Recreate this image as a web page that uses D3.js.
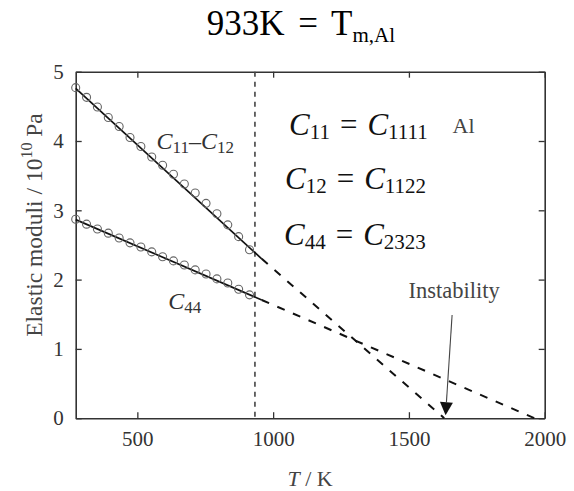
<!DOCTYPE html>
<html>
<head>
<meta charset="utf-8">
<script src="https://cdn.jsdelivr.net/npm/d3@7"></script>
<style>
  html, body { margin: 0; padding: 0; background: #fff; }
  svg { display: block; }
</style>
</head>
<body>
<svg id="chart" width="574" height="491"></svg>
<script>
// Measured temperatures (K)
const temps = [273, 313, 353, 393, 433, 473, 513, 553, 593, 633, 673, 713, 753, 793, 833, 873, 913];
// C11 - C12 (10^10 Pa)
const c11MinusC12 = [4.77, 4.63, 4.49, 4.34, 4.21, 4.05, 3.92, 3.77, 3.65, 3.52, 3.38, 3.25, 3.10, 2.95, 2.79, 2.62, 2.43];
// C44 (10^10 Pa)
const c44 = [2.87, 2.80, 2.73, 2.67, 2.60, 2.53, 2.47, 2.40, 2.33, 2.27, 2.21, 2.14, 2.08, 2.01, 1.95, 1.86, 1.78];

// Linear fits [T, value]: fitted part and extrapolation to zero
const fitC11C12 = [[273, 4.76], [958, 2.30]];
const extC11C12 = [[958, 2.30], [1630, 0]];
const fitC44 = [[273, 2.865], [958, 1.706]];
const extC44 = [[958, 1.706], [1962, 0]];

const meltingT = 933;
const instabilityT = 1635;
const arrowStart = [1659, 1.49];

const xTicks = [500, 1000, 1500, 2000];
const yTicks = [0, 1, 2, 3, 4, 5];

const serif = "'Liberation Serif', 'DejaVu Serif', serif";

const svg = d3.select("#chart");
const plotLeft = 75.7, plotRight = 544.7, plotTop = 71.7, plotBottom = 418.2;

const x = d3.scaleLinear().domain([273, 2000]).range([plotLeft, plotRight]);
const y = d3.scaleLinear().domain([0, 5]).range([plotBottom, plotTop]);

const axisColor = "#333";
const fmt = d3.format("d");

// Axes with inward ticks on all four sides
const gB = svg.append("g").attr("transform", `translate(0,${plotBottom})`)
  .call(d3.axisBottom(x).tickValues(xTicks).tickFormat(fmt).tickSizeInner(-6).tickSizeOuter(0).tickPadding(13));
const gT = svg.append("g").attr("transform", `translate(0,${plotTop})`)
  .call(d3.axisTop(x).tickValues(xTicks).tickSizeInner(-6).tickSizeOuter(0).tickFormat(""));
const gL = svg.append("g").attr("transform", `translate(${plotLeft},0)`)
  .call(d3.axisLeft(y).tickValues(yTicks).tickFormat(fmt).tickSizeInner(-6).tickSizeOuter(0).tickPadding(12));
const gR = svg.append("g").attr("transform", `translate(${plotRight},0)`)
  .call(d3.axisRight(y).tickValues(yTicks).tickSizeInner(-6).tickSizeOuter(0).tickFormat(""));

[gB, gT, gL, gR].forEach(g => {
  g.select(".domain").attr("stroke", axisColor).attr("stroke-width", 1.6);
  g.selectAll(".tick line").attr("stroke", axisColor).attr("stroke-width", 1.3);
  g.selectAll(".tick text").attr("font-size", 21).attr("fill", "#333");
});

// Melting point marker
svg.append("line")
  .attr("x1", x(meltingT)).attr("x2", x(meltingT))
  .attr("y1", y(5)).attr("y2", y(0))
  .attr("stroke", "#444").attr("stroke-width", 1.6).attr("stroke-dasharray", "5,5");

const line = d3.line().x(d => x(d[0])).y(d => y(d[1]));

// Fitted lines
[fitC11C12, fitC44].forEach(seg => {
  svg.append("path").attr("d", line(seg)).attr("fill", "none")
    .attr("stroke", "#111").attr("stroke-width", 1.7);
});
// Extrapolations
[extC11C12, extC44].forEach(seg => {
  svg.append("path").attr("d", line(seg)).attr("fill", "none")
    .attr("stroke", "#111").attr("stroke-width", 2).attr("stroke-dasharray", "8,9");
});

// Data points
[c11MinusC12, c44].forEach(vals => {
  svg.append("g").selectAll("circle").data(vals).join("circle")
    .attr("cx", (d, i) => x(temps[i])).attr("cy", d => y(d)).attr("r", 4)
    .attr("fill", "none").attr("stroke", "#666").attr("stroke-width", 1.1);
});

// Instability arrow
const ax0 = x(arrowStart[0]), ay0 = y(arrowStart[1]);
const ax1 = x(instabilityT), ay1 = y(0) - 3;
const ang = Math.atan2(ay1 - ay0, ax1 - ax0);
const headLen = 13, headHalf = 6.5;
const bx = ax1 - headLen * Math.cos(ang), by = ay1 - headLen * Math.sin(ang);
svg.append("line").attr("x1", ax0).attr("y1", ay0).attr("x2", bx).attr("y2", by)
  .attr("stroke", "#444").attr("stroke-width", 1.1);
svg.append("path")
  .attr("d", `M${ax1},${ay1}L${bx - headHalf * Math.sin(ang)},${by + headHalf * Math.cos(ang)}L${bx + headHalf * Math.sin(ang)},${by - headHalf * Math.cos(ang)}Z`)
  .attr("fill", "#111");
svg.append("text").attr("x", 408.5).attr("y", 298).attr("font-size", 22.5).attr("fill", "#444").text("Instability");

// Curve labels
function subLabel(xp, yp, parts, size) {
  const t = svg.append("text").attr("x", xp).attr("y", yp).attr("font-size", size).attr("fill", "#333");
  parts.forEach(p => {
    const s = t.append("tspan").text(p.t);
    if (p.i) s.attr("font-style", "italic");
    if (p.s) s.attr("font-size", p.s);
    if (p.dy) s.attr("dy", p.dy);
    if (p.dx) s.attr("dx", p.dx);
  });
  return t;
}
subLabel(156.5, 149, [{t: "C", i: 1}, {t: "11", s: 17, dy: 4}, {t: "\u2013", dy: -4}, {t: "C", i: 1}, {t: "12", s: 17, dy: 4}], 24);
subLabel(168.3, 309, [{t: "C", i: 1}, {t: "44", s: 17, dy: 4}], 24);

// Tensor index relations
const relations = [
  {x: 289, y: 135, a: "11", b: "1111"},
  {x: 285, y: 189, a: "12", b: "1122"},
  {x: 284, y: 245, a: "44", b: "2323"}
];
relations.forEach(r => {
  subLabel(r.x, r.y, [
    {t: "C", i: 1}, {t: r.a, s: 21, dy: 4},
    {t: "=", dx: 10, dy: -4}, {t: "C", i: 1, dx: 10}, {t: r.b, s: 21, dy: 4}
  ], 31).attr("fill", "#111");
});
svg.append("text").attr("x", 452.5).attr("y", 133).attr("font-size", 22).attr("fill", "#444").text("Al");

// Title
const title = svg.append("text").attr("x", 206.7).attr("y", 35).attr("font-size", 35)
  .attr("word-spacing", 5).attr("fill", "#000");
title.append("tspan").text("933K = T");
title.append("tspan").attr("font-size", 21).attr("dy", 7).text("m,Al");

// Axis titles
const xl = svg.append("text").attr("x", 310).attr("y", 485.7).attr("text-anchor", "middle").attr("font-size", 22).attr("fill", "#444");
xl.append("tspan").attr("font-style", "italic").text("T");
xl.append("tspan").text(" / K");

const yl = svg.append("text").attr("transform", "translate(41.7,225) rotate(-90)")
  .attr("text-anchor", "middle").attr("font-size", 23.5).attr("fill", "#444");
yl.append("tspan").text("Elastic moduli / 10");
yl.append("tspan").attr("font-size", 16).attr("dy", -10).text("10");
yl.append("tspan").attr("dy", 10).text(" Pa");

// Serif face for every label, set inline so it wins over the axis defaults
svg.selectAll("text").style("font-family", serif);
</script>
</body>
</html>
